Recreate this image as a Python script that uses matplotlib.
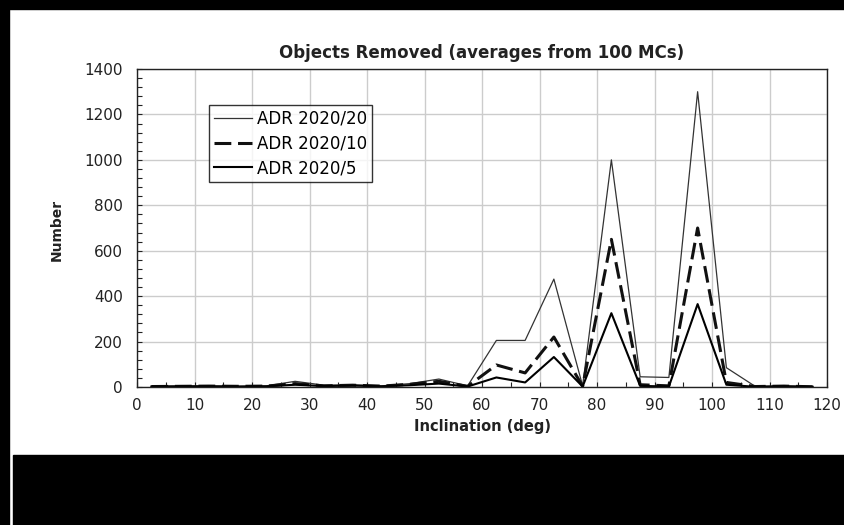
import numpy as np
import matplotlib.pyplot as plt
from matplotlib.patches import Rectangle
from matplotlib.ticker import MultipleLocator

# bin centres (deg) and averaged counts
incl = [2.5, 7.5, 12.5, 17.5, 22.5, 27.5, 32.5, 37.5, 42.5, 47.5, 52.5, 57.5,
        62.5, 67.5, 72.5, 77.5, 82.5, 87.5, 92.5, 97.5, 102.5, 107.5, 112.5, 117.5]
adr20 = [3, 4, 5, 3, 5, 25, 8, 10, 5, 15, 35, 5,
         205, 205, 475, 5, 1000, 45, 42, 1300, 85, 3, 5, 2]
adr10 = [2, 3, 4, 3, 4, 15, 5, 8, 4, 12, 25, 3,
         97, 62, 220, 3, 650, 10, 5, 700, 20, 2, 4, 1]
adr5 = [2, 3, 3, 2, 3, 10, 4, 6, 3, 8, 15, 2,
        42, 20, 132, 2, 325, 5, 2, 365, 10, 1, 3, 1]

plt.rcParams['font.family'] = 'DejaVu Sans'

fig = plt.figure(figsize=(8.44, 5.25), dpi=100)
W, H = 844, 525
# black borders of the scanned picture
fig.patches.append(Rectangle((0, 1 - 9 / H), 1, 9 / H, transform=fig.transFigure,
                             color='black', zorder=0))
fig.patches.append(Rectangle((0, 0), 9 / W, 1, transform=fig.transFigure,
                             color='black', zorder=0))
fig.patches.append(Rectangle((13 / W, 0), 1, 70 / H, transform=fig.transFigure,
                             color='black', zorder=0))

ax = fig.add_axes([137 / W, 138 / H, 690 / W, 318 / H])

ax.plot(incl, adr20, color='#333333', lw=0.9, label='ADR 2020/20')
ax.plot(incl, adr10, color='#111111', lw=2.2, dashes=(5.5, 2.2), label='ADR 2020/10')
ax.plot(incl, adr5, color='black', lw=1.5, label='ADR 2020/5')

ax.set_xlim(0, 120)
ax.set_ylim(0, 1400)
ax.xaxis.set_major_locator(MultipleLocator(10))
ax.xaxis.set_minor_locator(MultipleLocator(5))
ax.yaxis.set_major_locator(MultipleLocator(200))
ax.yaxis.set_minor_locator(MultipleLocator(40))
ax.grid(True, which='major', color='#cccccc', lw=1)
ax.set_axisbelow(True)
ax.tick_params(which='both', direction='in', length=3.5, width=0.8,
               labelsize=11, colors='#222222')
ax.tick_params(axis='x', pad=8)
ax.tick_params(axis='y', pad=10)
for s in ax.spines.values():
    s.set_linewidth(1)
    s.set_color('#222222')

ax.set_title('Objects Removed (averages from 100 MCs)', fontsize=12,
             fontweight='bold', pad=8, color='#222222')
ax.set_xlabel('Inclination (deg)', fontsize=10.5, fontweight='bold', color='#222222')
ax.set_ylabel('Number', fontsize=10, fontweight='bold', color='#222222')
ax.xaxis.set_label_coords(0.5, -0.10)
ax.yaxis.set_label_coords(-0.106, 0.494)

leg = ax.legend(loc='upper left', bbox_to_anchor=(0.104, 0.887), fontsize=12,
                frameon=True, fancybox=False, handlelength=2.3, handletextpad=0.3,
                borderpad=0.3, labelspacing=0.4, borderaxespad=0)
leg.get_frame().set_edgecolor('black')
leg.get_frame().set_linewidth(1)

fig.savefig('out.png', dpi=100, facecolor='white')
